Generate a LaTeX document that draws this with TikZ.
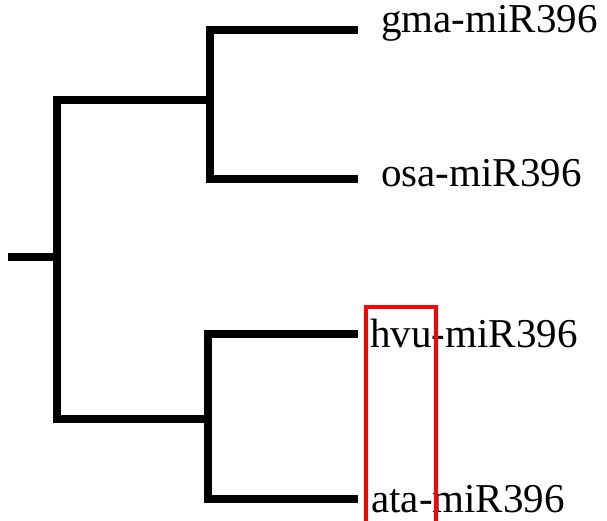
\documentclass[tikz,border=0pt]{standalone}
\usepackage{fontspec}
\setmainfont{Liberation Serif}
\begin{document}
\begin{tikzpicture}[x=1pt,y=-1pt,
  branch/.style={line width=8pt, line join=miter, line cap=butt},
  leaf/.style={anchor=base west, inner sep=0pt, font=\fontsize{41}{49}\selectfont},
  markbox/.style={draw=red, line width=4pt}]
\useasboundingbox (0,0) rectangle (607,520);
\clip (0,0) rectangle (607,520);
% tree junctions and tips
\coordinate (root) at (8,257);
\coordinate (n0) at (56.5,257);
\coordinate (n1) at (210,99.5);
\coordinate (n2) at (208,419);
\coordinate (tgma) at (358,29.5);
\coordinate (tosa) at (358,179);
\coordinate (thvu) at (358,334);
\coordinate (tata) at (358,499);
% labels
\node[leaf] (gma) at (381,32) {gma-miR396};
\node[leaf] (osa) at (381,186) {osa-miR396};
\node[leaf] (hvu) at (370,347) {hvu-miR396};
\node[leaf] (ata) at (371,512) {ata-miR396};
% branches
\draw[branch] (root) -- (n0);
\draw[branch] (n1) -- (n0 |- n1) -- (n0 |- n2) -- (n2);
\draw[branch] (tgma) -- (n1 |- tgma) -- (n1 |- tosa) -- (tosa);
\draw[branch] (thvu) -- (n2 |- thvu) -- (n2 |- tata) -- (tata);
% highlight box
\node[markbox, minimum width=70pt, minimum height=230pt, anchor=north west, inner sep=0pt] (box) at (364,304.5) {};
\end{tikzpicture}
\end{document}
